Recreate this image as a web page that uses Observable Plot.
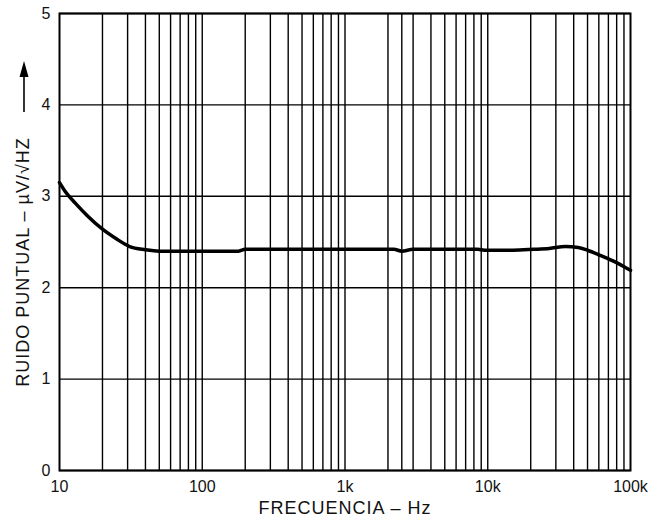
<!DOCTYPE html>
<html><head><meta charset="utf-8">
<script src="https://cdn.jsdelivr.net/npm/d3@7"></script>
<script src="https://cdn.jsdelivr.net/npm/@observablehq/plot@0.6"></script>
<style>body{margin:0;background:#fff} svg{display:block} .ttl{letter-spacing:1px}</style>
</head><body><div id="chart"></div>
<script>
// Frequency (Hz) and spot noise (µV/√Hz)
const freqs = [10, 11, 13, 15.6, 20, 25, 31, 40, 50, 100, 180, 200, 1000, 2200, 2500, 3000, 5000, 8500, 9500, 15000, 21000, 27000, 35000, 43000, 50000, 62000, 76000, 90000, 100000];
const noise = [3.15, 3.05, 2.92, 2.79, 2.64, 2.535, 2.45, 2.415, 2.40, 2.40, 2.40, 2.42, 2.42, 2.42, 2.40, 2.42, 2.42, 2.42, 2.41, 2.41, 2.42, 2.43, 2.45, 2.44, 2.41, 2.35, 2.29, 2.23, 2.19];
const xTicks = [10, 100, 1000, 10000, 100000];
const xTickLabels = ["10", "100", "1k", "10k", "100k"];
const yTicks = [0, 1, 2, 3, 4, 5];
const yTickLabels = ["0", "1", "2", "3", "4", "5"];
const gridFreqs = [20, 30, 40, 50, 60, 70, 80, 90, 100,
  200, 300, 400, 500, 600, 700, 800, 900, 1000,
  2000, 2500, 3000, 4000, 5000, 6000, 7000, 8000, 9000, 10000,
  20000, 30000, 40000, 50000, 60000, 70000, 80000, 90000];
const xTitle = "FRECUENCIA – Hz";
const yTitle = "RUIDO PUNTUAL – µV/√HZ";

const data = freqs.map((f, i) => ({f, v: noise[i]}));

const chart = Plot.plot({
  width: 670, height: 525,
  marginLeft: 59, marginRight: 40, marginTop: 13, marginBottom: 55,
  style: {fontFamily: "'Liberation Sans', Arial, sans-serif", fontSize: "16px", color: "#111", background: "#fff"},
  x: {type: "log", domain: [10, 100000]},
  y: {domain: [0, 5]},
  marks: [
    Plot.ruleX(gridFreqs, {stroke: "#000", strokeWidth: 1.4}),
    Plot.ruleY(yTicks, {stroke: "#000", strokeWidth: 1.4}),
    Plot.frame({stroke: "#000", strokeWidth: 2}),
    Plot.line(data, {x: "f", y: "v", stroke: "#000", strokeWidth: 3.5, curve: "monotone-x"}),
    Plot.axisX(xTicks, {tickSize: 0, tickPadding: 10, tickFormat: d => xTickLabels[xTicks.indexOf(d)], label: null, fill: "#111"}),
    Plot.axisY(yTicks, {tickSize: 0, tickPadding: 9, tickFormat: d => yTickLabels[yTicks.indexOf(d)], label: null, fill: "#111"}),
    Plot.text([xTitle], {frameAnchor: "bottom", dy: 43, text: d => d, fill: "#111", fontSize: 18, className: "ttl"}),
    Plot.text([yTitle], {frameAnchor: "left", textAnchor: "middle", rotate: -90, dx: -36, dy: 20, text: d => d, fill: "#111", fontSize: 18, className: "ttl"})
  ]
});
document.getElementById("chart").appendChild(chart);

// decorative upward arrow above the y-axis title
const svg = d3.select(chart);
svg.append("line").attr("x1", 24).attr("x2", 24).attr("y1", 112).attr("y2", 74)
  .attr("stroke", "#000").attr("stroke-width", 1.6);
svg.append("path").attr("d", "M24,61 L19.5,77 L28.5,77 Z").attr("fill", "#000");
</script>
</body></html>
